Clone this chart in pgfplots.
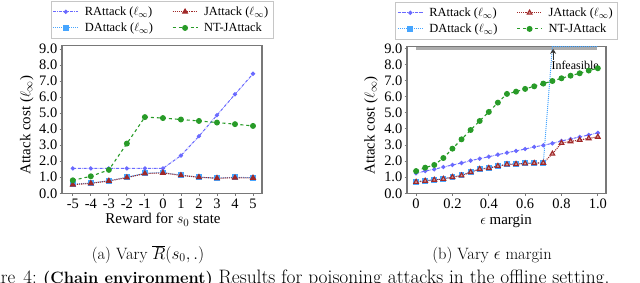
\documentclass[border=0pt]{standalone}
\usepackage{fontspec}
\newfontfamily\timesf{Liberation Serif}
\usepackage{pgfplots}
\pgfplotsset{compat=1.18}
\usetikzlibrary{arrows.meta}
\definecolor{rcol}{RGB}{105,105,255}
\definecolor{dcol}{RGB}{70,165,255}
\definecolor{jcol}{RGB}{160,40,40}
\definecolor{ncol}{RGB}{40,155,40}
\definecolor{framec}{RGB}{120,120,120}
\pgfplotsset{
 base/.style={scale only axis,
  axis line style={framec, line width=1.3bp},
  tick style={framec, line width=0.8bp}, tick align=outside, major tick length=2.5bp, tick pos=left,
  ymin=0, ytick={0,1,...,9},
  yticklabel style={/pgf/number format/.cd, fixed, fixed zerofill, precision=1, /tikz/.cd, inner sep=1bp, xshift=-1bp},
  xticklabel style={inner sep=0.5bp, yshift=-2.5bp},
  /pgf/number format/assume math mode=true,
  ticklabel style={font=\timesf\fontsize{14.5}{14.5}\selectfont},
  ylabel={Attack cost ($\ell_\infty$)},
  legend columns=2, transpose legend, legend cell align=left,
  legend style={draw=gray!45, line width=0.6bp, font=\timesf\fontsize{12.5}{13}\selectfont,
    at={(0.5,1)}, yshift=7.4bp, anchor=south, inner sep=2bp,
    nodes={inner sep=3bp},
    /tikz/every odd column/.append style={column sep=3bp},
    /tikz/every even column/.append style={column sep=16bp}},
  legend image code/.code={\draw[mark repeat=2,mark phase=2,##1] plot coordinates {(0bp,0bp) (12.5bp,0bp) (25bp,0bp)};},
 },
 lf/.style={font=\timesf\fontsize{15}{15}\selectfont, inner sep=0bp},
 rst/.style={rcol, densely dashdotted, line width=1bp, mark=*, mark size=1.6bp, mark options={solid}},
 dst/.style={dcol, densely dotted, line width=1bp, mark=square*, mark size=2.4bp, mark options={solid}},
 jst/.style={jcol, densely dotted, line width=1.1bp, mark=triangle*, mark size=2.7bp, mark options={solid}},
 nst/.style={ncol, dashed, line width=1.1bp, mark=*, mark size=2.4bp, mark options={solid}},
}
\begin{document}
\begin{tikzpicture}[x=1bp,y=1bp]
\clip (0,0) rectangle (640,282);
\begin{axis}[base, at={(62bp,88.7bp)}, anchor=south west, width=200bp, height=147.6bp,
  xmin=-5.6, xmax=5.5, ymax=9.2,
  xtick={-5,...,5}, xticklabels={-5,-4,-3,-2,-1,0,1,2,3,4,5},
  xlabel={Reward for $s_0$ state},
  every axis x label/.style={at={(axis description cs:0.505,-0.207)}, anchor=base, /pgfplots/lf},
  every axis y label/.style={at={(axis description cs:-0.1765,0.463)}, anchor=center, rotate=90, /pgfplots/lf}]
\addplot[rst] coordinates {(-5,1.55)(-4,1.55)(-3,1.55)(-2,1.55)(-1,1.55)(0,1.55)(1,2.35)(2,3.56)(3,4.87)(4,6.17)(5,7.45)};
\addlegendentry{RAttack ($\ell_\infty$)}
\addplot[dst] coordinates {(-5,0.57)(-4,0.64)(-3,0.78)(-2,1.0)(-1,1.25)(0,1.3)(1,1.13)(2,1.0)(3,0.95)(4,1.0)(5,0.97)};
\addlegendentry{DAttack ($\ell_\infty$)}
\addplot[jst] coordinates {(-5,0.54)(-4,0.62)(-3,0.77)(-2,0.98)(-1,1.23)(0,1.27)(1,1.12)(2,1.0)(3,0.94)(4,0.97)(5,0.96)};
\addlegendentry{JAttack ($\ell_\infty$)}
\addplot[nst] coordinates {(-5,0.81)(-4,1.06)(-3,1.46)(-2,3.1)(-1,4.75)(0,4.69)(1,4.6)(2,4.51)(3,4.41)(4,4.31)(5,4.2)};
\addlegendentry{NT-JAttack}
\end{axis}
\begin{axis}[base, at={(407bp,88.7bp)}, anchor=south west, width=199bp, height=146.6bp,
  xmin=-0.05, xmax=1.045, ymax=9.1,
  xtick={0,0.2,0.4,0.6,0.8,1.0}, xticklabels={0,0.2,0.4,0.6,0.8,1.0},
  xlabel={$\epsilon$ margin},
  every axis x label/.style={at={(axis description cs:0.4975,-0.213)}, anchor=base, /pgfplots/lf},
  every axis y label/.style={at={(axis description cs:-0.181,0.463)}, anchor=center, rotate=90, /pgfplots/lf}]
\addplot[forget plot, gray!65, line width=3bp] coordinates {(0,9.0)(0.995,9.0)};
\addplot[rst] coordinates {(0,1.24)(0.05,1.38)(0.1,1.49)(0.15,1.63)(0.2,1.76)(0.25,1.88)(0.3,2.03)(0.35,2.15)(0.4,2.27)(0.45,2.4)(0.5,2.52)(0.55,2.63)(0.6,2.75)(0.65,2.88)(0.7,2.98)(0.75,3.1)(0.8,3.25)(0.85,3.37)(0.9,3.5)(0.95,3.62)(1.0,3.75)};
\addlegendentry{RAttack ($\ell_\infty$)}
\addplot[dst] coordinates {(0,0.72)(0.05,0.78)(0.1,0.84)(0.15,0.9)(0.2,1.01)(0.25,1.12)(0.3,1.33)(0.35,1.52)(0.4,1.58)(0.45,1.7)(0.5,1.8)(0.55,1.83)(0.6,1.86)(0.65,1.88)(0.7,1.9)};
\addlegendentry{DAttack ($\ell_\infty$)}
\addplot[forget plot, dcol, densely dotted, line width=1bp] coordinates {(0.7,1.9)(0.75,9.1)(0.8,9.1)(0.85,9.1)(0.9,9.1)(0.95,9.1)(1.0,9.1)};
\addplot[jst, mark options={solid, fill=jcol!45}] coordinates {(0,0.7)(0.05,0.77)(0.1,0.83)(0.15,0.89)(0.2,1.0)(0.25,1.1)(0.3,1.31)(0.35,1.5)(0.4,1.56)(0.45,1.69)(0.5,1.79)(0.55,1.81)(0.6,1.85)(0.65,1.87)(0.7,1.89)(0.75,2.45)(0.8,3.12)(0.85,3.22)(0.9,3.31)(0.95,3.41)(1.0,3.5)};
\addlegendentry{JAttack ($\ell_\infty$)}
\addplot[nst] coordinates {(0,1.38)(0.05,1.59)(0.1,1.76)(0.15,2.19)(0.2,2.77)(0.25,3.35)(0.3,3.93)(0.35,4.49)(0.4,5.05)(0.45,5.63)(0.5,6.17)(0.55,6.31)(0.6,6.48)(0.65,6.64)(0.7,6.81)(0.75,6.97)(0.8,7.14)(0.85,7.3)(0.9,7.45)(0.95,7.62)(1.0,7.76)};
\addlegendentry{NT-JAttack}
\draw[-{Stealth[open,length=5bp,width=6bp]}, line width=1.1bp, gray!40!black] (axis cs:0.754,8.3) -- (axis cs:0.754,8.97);
\node[font=\timesf\fontsize{12}{12}\selectfont, inner sep=0] at (axis cs:0.875,7.97) {Infeasible};
\end{axis}
\node[font=\fontsize{16.5}{18}\selectfont, anchor=base, inner sep=0] at (148,22.8) {(a) Vary $\overline{R}(s_0,.)$};
\node[font=\fontsize{16.5}{18}\selectfont, anchor=base, inner sep=0] at (492,22.8) {(b) Vary $\epsilon$ margin};
\node[font=\fontsize{19}{20}\selectfont, anchor=base east, inner sep=0] at (37,-1.5) {Figure\hspace{8bp}4:};
\node[font=\fontsize{19}{20}\selectfont, anchor=base west, inner sep=0] at (43,-1.5) {\fontsize{16.5}{18}\selectfont\textbf{(Chain environment)}\fontsize{19.5}{20}\selectfont\ Results for poisoning attacks in the offline setting.};
\end{tikzpicture}
\end{document}
